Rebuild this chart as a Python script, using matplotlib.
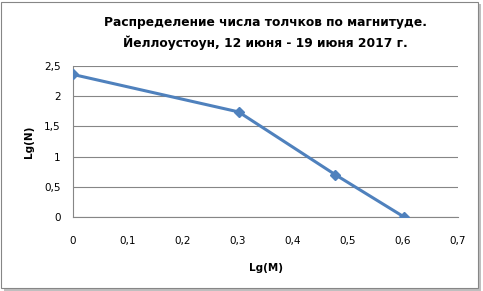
import numpy as np
import matplotlib.pyplot as plt
from matplotlib.patches import Rectangle

# данные: lg(M) и lg(N)
lg_m = [0.0, 0.301, 0.477, 0.602]
lg_n = [2.36, 1.74, 0.70, 0.0]
x_ticks = [0, 0.1, 0.2, 0.3, 0.4, 0.5, 0.6, 0.7]
y_ticks = [0, 0.5, 1, 1.5, 2, 2.5]

def comma(v):
    s = ('%g' % v).replace('.', ',')
    return s

fig = plt.figure(figsize=(4.83, 2.91), dpi=100)

# рамка с тенью
fig.patches.append(Rectangle((4 / 483, 0 / 291), 477 / 483, 287 / 291, transform=fig.transFigure,
                             facecolor='#bfbfbf', edgecolor='none', zorder=-3))
fig.patches.append(Rectangle((1 / 483, 3 / 291), 477 / 483, 286 / 291, transform=fig.transFigure,
                             facecolor='white', edgecolor='#868686', lw=0.8, zorder=-2))

ax = fig.add_axes([73 / 483, 1 - 217 / 291, 385 / 483, 151 / 291])
ax.set_facecolor('none')
ax.plot(lg_m, lg_n, color='#4f81bd', lw=2.2, marker='D', markersize=5.5, zorder=3)

ax.set_xlim(0, 0.7)
ax.set_ylim(0, 2.5)
ax.set_xticks(x_ticks)
ax.set_yticks(y_ticks)
ax.set_xticklabels([comma(v) for v in x_ticks])
ax.set_yticklabels([comma(v) for v in y_ticks])
ax.tick_params(length=0, labelsize=7.5, pad=14)
ax.tick_params(axis='y', pad=9)
ax.grid(axis='y', color='#868686', lw=0.8)
ax.set_axisbelow(True)
for s in ['top', 'right']:
    ax.spines[s].set_visible(False)
for s in ['left', 'bottom']:
    ax.spines[s].set_color('#868686')
    ax.spines[s].set_linewidth(0.8)

ax.set_xlabel('Lg(M)', fontsize=7.5, fontweight='bold', labelpad=12)
ax.set_ylabel('Lg(N)', fontsize=7.5, fontweight='bold', labelpad=7)
ax.set_title('Распределение числа толчков по магнитуде.\nЙеллоустоун, 12 июня - 19 июня 2017 г.',
             fontsize=8.8, fontweight='bold', pad=14, linespacing=1.5)

fig.savefig('out.png', dpi=100)
